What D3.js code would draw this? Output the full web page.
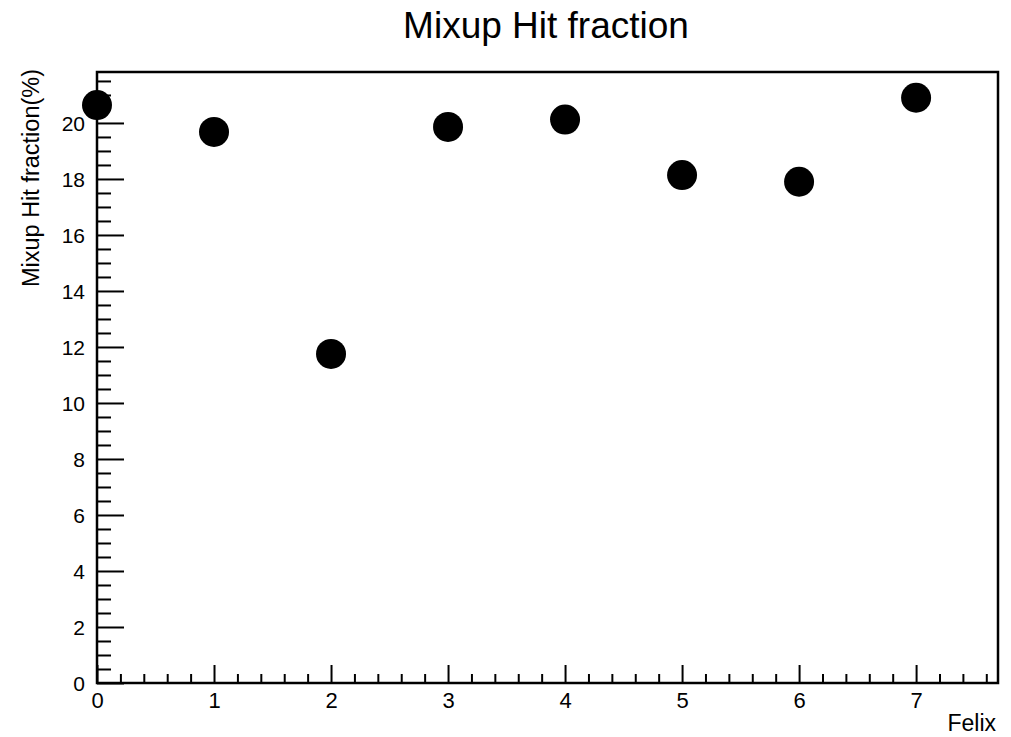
<!DOCTYPE html>
<html><head><meta charset="utf-8">
<script src="https://cdn.jsdelivr.net/npm/d3@7"></script>
<style>body{margin:0;background:#fff;} text{font-family:"Liberation Sans",Arial,sans-serif;}</style>
</head><body>
<svg id="c" width="1011" height="737"></svg>
<script>
const felix = [0,1,2,3,4,5,6,7];
const fraction = [20.64,19.68,11.75,19.86,20.12,18.14,17.9,20.9];
const xTicks = [0,1,2,3,4,5,6,7];
const yTicks = [0,2,4,6,8,10,12,14,16,18,20];

const svg = d3.select("#c");
const L=97,R=998,T=72,B=683;
const x = d3.scaleLinear().domain([0,7.7]).range([L,R]);
const y = d3.scaleLinear().domain([0,21.82]).range([B,T]);
const FF = "Liberation Sans, Arial, sans-serif";

svg.append("rect").attr("width",1011).attr("height",737).attr("fill","#fff");

// x axis ticks
const xMinor = d3.range(0,7.71,0.2).filter(v=>Math.abs(v-Math.round(v))>1e-6);
const gx = svg.append("g").attr("transform",`translate(0,${B})`);
gx.call(d3.axisBottom(x).tickValues(xTicks).tickFormat(d3.format("d")).tickSizeInner(-18).tickSizeOuter(0).tickPadding(9));
gx.append("g").call(d3.axisBottom(x).tickValues(xMinor).tickFormat("").tickSizeInner(-9).tickSizeOuter(0));
gx.selectAll(".domain").remove();
gx.selectAll("line").attr("stroke","#000").attr("stroke-width",2);
gx.selectAll("text").attr("font-size",22).attr("fill","#000").attr("dy","0.72em").attr("font-family",FF);

// y axis ticks
const yMinor = d3.range(0,21.8,0.5).filter(v=>Math.abs(v/2-Math.round(v/2))>1e-6);
const gy = svg.append("g").attr("transform",`translate(${L},0)`);
gy.call(d3.axisLeft(y).tickValues(yTicks).tickFormat(d3.format("d")).tickSizeInner(-27).tickSizeOuter(0).tickPadding(12));
gy.append("g").call(d3.axisLeft(y).tickValues(yMinor).tickFormat("").tickSizeInner(-14).tickSizeOuter(0));
gy.selectAll(".domain").remove();
gy.selectAll("line").attr("stroke","#000").attr("stroke-width",2);
gy.selectAll("text").attr("font-size",21).attr("fill","#000").attr("dy","0.36em").attr("font-family",FF);

// frame
svg.append("rect").attr("x",L).attr("y",T).attr("width",R-L).attr("height",B-T)
  .attr("fill","none").attr("stroke","#000").attr("stroke-width",2.5);

// points
svg.append("g").selectAll("circle").data(felix).join("circle")
  .attr("cx",(d)=>x(d)).attr("cy",(d,i)=>y(fraction[i])).attr("r",15).attr("fill","#000");

// titles
svg.append("text").attr("x",546).attr("y",38).attr("text-anchor","middle").attr("font-size",37).attr("fill","#000").text("Mixup Hit fraction");
svg.append("text").attr("x",996).attr("y",731).attr("text-anchor","end").attr("font-size",23).attr("fill","#000").text("Felix");
svg.append("text").attr("transform",`translate(39,${T-3}) rotate(-90)`).attr("text-anchor","end").attr("font-size",23.5).attr("fill","#000").text("Mixup Hit fraction(%)");
</script>
</body></html>
